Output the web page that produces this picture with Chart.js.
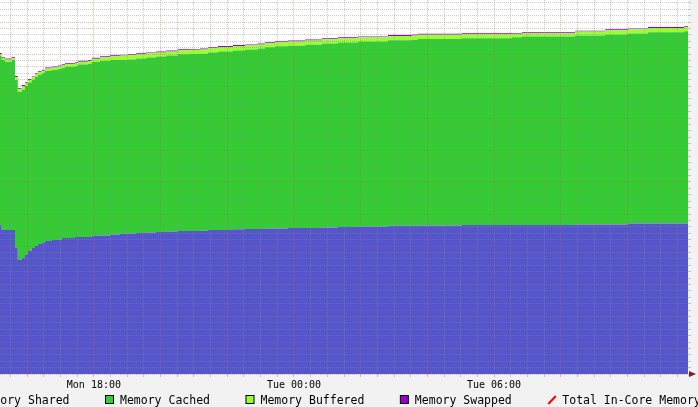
<!DOCTYPE html>
<html>
<head>
<meta charset="utf-8">
<script src="https://cdn.jsdelivr.net/npm/chart.js@4.4.1/dist/chart.umd.min.js"></script>
<style>
  html, body { margin: 0; padding: 0; background: #f2f2f2; overflow: hidden; }
  canvas { display: block; }
</style>
</head>
<body>
<canvas id="c" width="698" height="407"></canvas>
<script>
// time in minutes since Monday 00:00
const times = [911, 914, 920, 932, 938, 943, 950, 956, 961, 968, 974, 979, 986, 992, 1004, 1015, 1022, 1028, 1046, 1051, 1069, 1076, 1091, 1109, 1127, 1141, 1156, 1174, 1192, 1210, 1231, 1253, 1271, 1285, 1303, 1330, 1352, 1375, 1388, 1406, 1429, 1460, 1490, 1519, 1555, 1609, 1652, 1663, 1742, 1832, 1850, 1946, 2000, 2041, 2077, 2142, 2149];

const memUsed = [4.66, 4.50, 4.50, 4.50, 3.94, 3.56, 3.63, 3.72, 3.84, 3.94, 4.00, 4.06, 4.10, 4.16, 4.19, 4.20, 4.25, 4.25, 4.28, 4.28, 4.28, 4.33, 4.33, 4.36, 4.38, 4.39, 4.41, 4.42, 4.44, 4.45, 4.47, 4.47, 4.48, 4.50, 4.50, 4.52, 4.53, 4.53, 4.55, 4.55, 4.56, 4.56, 4.58, 4.59, 4.61, 4.63, 4.63, 4.64, 4.66, 4.66, 4.66, 4.67, 4.67, 4.70, 4.70, 4.70, 4.70];

const memShared = [0, 0, 0, 0, 0, 0, 0, 0, 0, 0, 0, 0, 0, 0, 0, 0, 0, 0, 0, 0, 0, 0, 0, 0, 0, 0, 0, 0, 0, 0, 0, 0, 0, 0, 0, 0, 0, 0, 0, 0, 0, 0, 0, 0, 0, 0, 0, 0, 0, 0, 0, 0, 0, 0, 0, 0, 0];

const memCached = [5.28, 5.31, 5.25, 5.31, 5.25, 5.25, 5.25, 5.28, 5.27, 5.25, 5.28, 5.28, 5.30, 5.31, 5.31, 5.33, 5.31, 5.34, 5.34, 5.39, 5.41, 5.42, 5.45, 5.45, 5.44, 5.44, 5.45, 5.47, 5.48, 5.50, 5.52, 5.53, 5.53, 5.55, 5.58, 5.59, 5.61, 5.64, 5.66, 5.69, 5.70, 5.73, 5.75, 5.77, 5.78, 5.80, 5.81, 5.83, 5.83, 5.86, 5.89, 5.91, 5.94, 5.94, 5.98, 6.01, 6.01];

const memBuffered = [0.06, 0.06, 0.08, 0.06, 0.09, 0.09, 0.12, 0.09, 0.08, 0.08, 0.09, 0.09, 0.08, 0.08, 0.08, 0.08, 0.09, 0.09, 0.09, 0.09, 0.09, 0.10, 0.12, 0.12, 0.13, 0.13, 0.13, 0.13, 0.13, 0.13, 0.13, 0.13, 0.13, 0.13, 0.14, 0.14, 0.13, 0.13, 0.13, 0.13, 0.13, 0.13, 0.13, 0.13, 0.13, 0.13, 0.14, 0.13, 0.13, 0.11, 0.10, 0.12, 0.13, 0.13, 0.13, 0.13, 0.13];

const memSwapped = [0.03, 0.03, 0.03, 0.03, 0.03, 0.03, 0.03, 0.03, 0.03, 0.03, 0.03, 0.03, 0.03, 0.03, 0.03, 0.03, 0.03, 0.03, 0.03, 0.03, 0.03, 0.03, 0.03, 0.03, 0.03, 0.03, 0.03, 0.03, 0.03, 0.03, 0.03, 0.03, 0.03, 0.03, 0.03, 0.03, 0.03, 0.03, 0.03, 0.03, 0.03, 0.03, 0.03, 0.03, 0.03, 0.03, 0.03, 0.03, 0.03, 0.03, 0.03, 0.03, 0.03, 0.03, 0.03, 0.03, 0.03];

const memTotal = [12, 12, 12, 12, 12, 12, 12, 12, 12, 12, 12, 12, 12, 12, 12, 12, 12, 12, 12, 12, 12, 12, 12, 12, 12, 12, 12, 12, 12, 12, 12, 12, 12, 12, 12, 12, 12, 12, 12, 12, 12, 12, 12, 12, 12, 12, 12, 12, 12, 12, 12, 12, 12, 12, 12, 12, 12];

const tickTimes = [1080, 1440, 1800];
const tickLabels = ['Mon 18:00', 'Tue 00:00', 'Tue 06:00'];

const X_MIN = 911, X_MAX = 2149;
const Y_MIN = 0, Y_MAX = 11.6875;

const MINOR = 'rgba(143,143,143,0.45)';
const MAJOR = 'rgba(222,79,79,0.42)';

const pts = arr => times.map((t, i) => ({ x: t, y: arr[i] }));

function area(label, arr, color, fill) {
  return {
    label, data: pts(arr), backgroundColor: color, borderColor: color,
    borderWidth: 0, pointRadius: 0, stepped: true, fill, tension: 0, stack: 'mem'
  };
}

const datasets = [
  area('Memory Used', memUsed, '#5555cc', 'origin'),
  area('Memory Shared', memShared, '#0000aa', '-1'),
  area('Memory Cached', memCached, '#33cc33', '-1'),
  area('Memory Buffered', memBuffered, '#99ff33', '-1'),
  area('Memory Swapped', memSwapped, '#9900cc', '-1'),
  {
    label: 'Total In-Core Memory', data: pts(memTotal), borderColor: '#ff0000',
    backgroundColor: '#ff0000', borderWidth: 2, pointRadius: 0, stepped: true,
    fill: false, stack: 'total', isLine: true
  }
];

const bgPlugin = {
  id: 'bg',
  beforeDraw(chart) {
    const { ctx, chartArea: a } = chart;
    ctx.save();
    ctx.fillStyle = '#f2f2f2';
    ctx.fillRect(0, 0, chart.width, chart.height);
    ctx.fillStyle = '#ffffff';
    ctx.fillRect(a.left, a.top, a.right - a.left, a.bottom - a.top);
    ctx.restore();
  },
  afterDraw(chart) {
    const { ctx, chartArea: a } = chart;
    ctx.save();
    // axis arrow
    ctx.fillStyle = '#801f1f';
    ctx.beginPath();
    ctx.moveTo(a.right + 1, a.bottom - 3);
    ctx.lineTo(a.right + 1, a.bottom + 3);
    ctx.lineTo(a.right + 8, a.bottom);
    ctx.closePath();
    ctx.fill();
    // legend
    ctx.font = '11.5px "DejaVu Sans Mono"';
    ctx.textBaseline = 'alphabetic';
    const sets = chart.data.datasets;
    const gap = 35.5, boxW = 15;
    const widths = sets.map(d => boxW + ctx.measureText(d.label).width + gap);
    let x = 105;
    for (let i = 1; i >= 0; i--) x -= widths[i];
    const by = 395.5;
    sets.forEach((d, i) => {
      if (d.isLine) {
        ctx.strokeStyle = d.borderColor;
        ctx.lineWidth = 2;
        ctx.beginPath();
        ctx.moveTo(x + 1, by + 8.5);
        ctx.lineTo(x + 8.5, by + 0.5);
        ctx.stroke();
      } else {
        ctx.fillStyle = d.backgroundColor;
        ctx.fillRect(x + 0.5, by, 8, 8);
        ctx.strokeStyle = '#000';
        ctx.lineWidth = 1;
        ctx.strokeRect(x + 0.5, by, 8, 8);
      }
      ctx.fillStyle = '#000';
      ctx.fillText(d.label, x + boxW, 404);
      x += widths[i];
    });
    ctx.restore();
  }
};

new Chart(document.getElementById('c'), {
  type: 'line',
  data: { datasets },
  plugins: [bgPlugin],
  options: {
    responsive: false,
    animation: false,
    devicePixelRatio: 1,
    layout: { padding: { left: 0, right: 7, top: 0, bottom: 14 } },
    plugins: { legend: { display: false }, tooltip: { enabled: false } },
    elements: { line: { borderJoinStyle: 'miter' } },
    scales: {
      x: {
        type: 'linear', min: X_MIN, max: X_MAX,
        grid: {
          z: 1, lineWidth: 1, tickLength: 3, drawTicks: true,
          color: c => (c.tick && c.tick.value % 120 === 0) ? MAJOR : MINOR
        },
        border: { display: false, dash: [1, 1] },
        ticks: {
          stepSize: 30, includeBounds: false, autoSkip: false, maxRotation: 0, minRotation: 0,
          padding: 2, color: '#000', font: { family: 'DejaVu Sans Mono', size: 10 },
          callback: v => { const k = tickTimes.indexOf(v); return k >= 0 ? tickLabels[k] : ''; }
        }
      },
      y: {
        type: 'linear', position: 'right', stacked: true, min: Y_MIN, max: Y_MAX,
        grid: {
          z: 1, lineWidth: 1, tickLength: 3, drawTicks: true,
          color: c => (c.tick && Math.abs(c.tick.value - Math.round(c.tick.value)) < 1e-6) ? MAJOR : MINOR
        },
        border: { display: false, dash: [1, 1] },
        ticks: { display: false, stepSize: 0.2, includeBounds: false }
      }
    }
  }
});
</script>
</body>
</html>
